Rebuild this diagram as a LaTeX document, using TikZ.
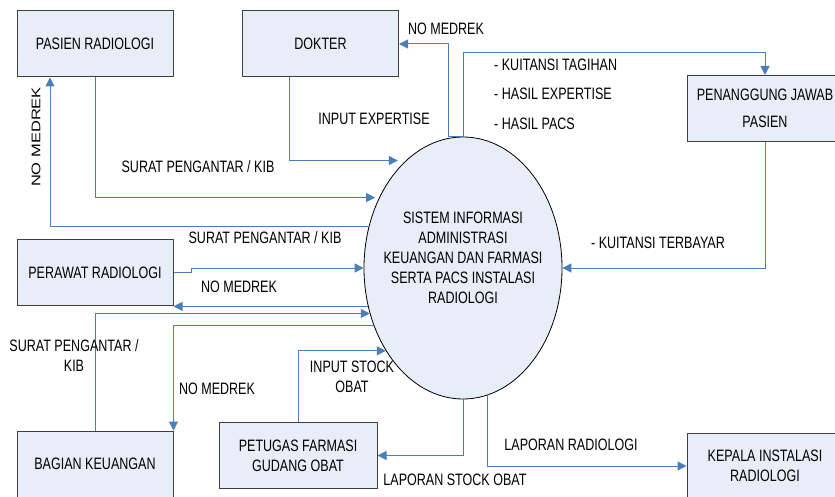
\documentclass[tikz,border=0pt]{standalone}
\usepackage{fontspec}
\usepackage{graphicx}
\setmainfont{Liberation Sans}[FakeStretch=0.76]
\newfontfamily\plainsans{Liberation Sans}
\usetikzlibrary{shapes.geometric,arrows.meta}
\definecolor{boxfill}{HTML}{E8EEF7}
\definecolor{boxline}{HTML}{3F3F3F}
\definecolor{flowline}{HTML}{4A7EBB}

\begin{document}
\begin{tikzpicture}[x=1pt,y=-1pt,
  every node/.style={font=\fontsize{16.5}{20}\selectfont,text=black},
  entity/.style={rectangle,draw=boxline,fill=boxfill,line width=1pt,minimum width=156pt,minimum height=66pt,align=center},
  process/.style={ellipse,draw=black,fill=boxfill,line width=0.8pt,minimum width=198pt,minimum height=262pt,inner sep=0pt},
  flow/.style={draw=flowline,line width=1pt,-{Triangle[length=9pt,width=9pt]}},
  lbl/.style={inner sep=0pt,align=center}]
    \useasboundingbox (0,0) rectangle (835,497);
    % Entities
    \node[entity] (pasien) at (95,44) {PASIEN RADIOLOGI};
    \node[entity] (dokter) at (320.5,44) {DOKTER};
    \node[entity] (pj) at (765,108.5) {PENANGGUNG JAWAB\\[7pt]PASIEN};
    \node[entity] (perawat) at (95,272.5) {PERAWAT RADIOLOGI};
    \node[entity] (bagian) at (95,464) {BAGIAN KEUANGAN};
    \node[entity,minimum width=158pt] (petugas) at (298,455.5) {PETUGAS FARMASI\\GUDANG OBAT};
    \node[entity] (kepala) at (765,466) {KEPALA INSTALASI\\RADIOLOGI};
    % Process
    \node[process] (sis) at (463,268) {};
    \node[lbl] (sistext) at (463,258) {SISTEM INFORMASI\\ADMINISTRASI\\KEUANGAN DAN FARMASI\\SERTA PACS INSTALASI\\RADIOLOGI};
    % Flows
    \draw[flow] (sis.north) -- ++(-15,0) |- (dokter.east);
    \draw[flow] (sis.north) -- ++(0,-84) -| (pj.north);
    \draw[flow] ([xshift=-31.5pt]dokter.south) |- ([xshift=-8pt]sis.118);
    \draw[flow] (pasien.south) |- ([xshift=-4pt]sis.140);
    \draw[flow] (sis.156) -| ([xshift=-45pt]pasien.south);
    \draw[flow] (perawat.east) -- ++(18,0) |- (sis.west);
    \draw[flow] (sis.202) -- (sis.202 -| perawat.east);
    \draw[flow] (bagian.north) |- (sis.206);
    \draw[flow] (sis.213) -| (bagian.north east);
    \draw[flow] (petugas.north) |- (sis.227);
    \draw[flow] (sis.south) |- (petugas.east);
    \draw[flow] (sis.281) |- (kepala.west);
    \draw[flow] (pj.south) |- (sis.east);
    % Labels
    \node[lbl] (l1) at (446,29) {NO MEDREK};
    \node[lbl,anchor=west] (l2) at (494,65) {- KUITANSI TAGIHAN};
    \node[lbl,anchor=west] (l3) at (494,94) {- HASIL EXPERTISE};
    \node[lbl,anchor=west] (l4) at (494,124) {- HASIL PACS};
    \node[lbl] (l5) at (374,119) {INPUT EXPERTISE};
    \node[lbl] (l6) at (198,167) {SURAT PENGANTAR / KIB};
    \node[lbl,rotate=90] (l7) at (36,137) {\scalebox{1}[0.76]{\plainsans NO MEDREK}};
    \node[lbl] (l8) at (265,238) {SURAT PENGANTAR / KIB};
    \node[lbl] (l9) at (239,287) {NO MEDREK};
    \node[lbl] (l10) at (74,356) {SURAT PENGANTAR /\\KIB};
    \node[lbl] (l11) at (217,389) {NO MEDREK};
    \node[lbl] (l12) at (352,377) {INPUT STOCK\\OBAT};
    \node[lbl] (l13) at (455,480) {LAPORAN STOCK OBAT};
    \node[lbl] (l14) at (571,445) {LAPORAN RADIOLOGI};
    \node[lbl] (l15) at (658,243) {- KUITANSI TERBAYAR};
\end{tikzpicture}
\end{document}
